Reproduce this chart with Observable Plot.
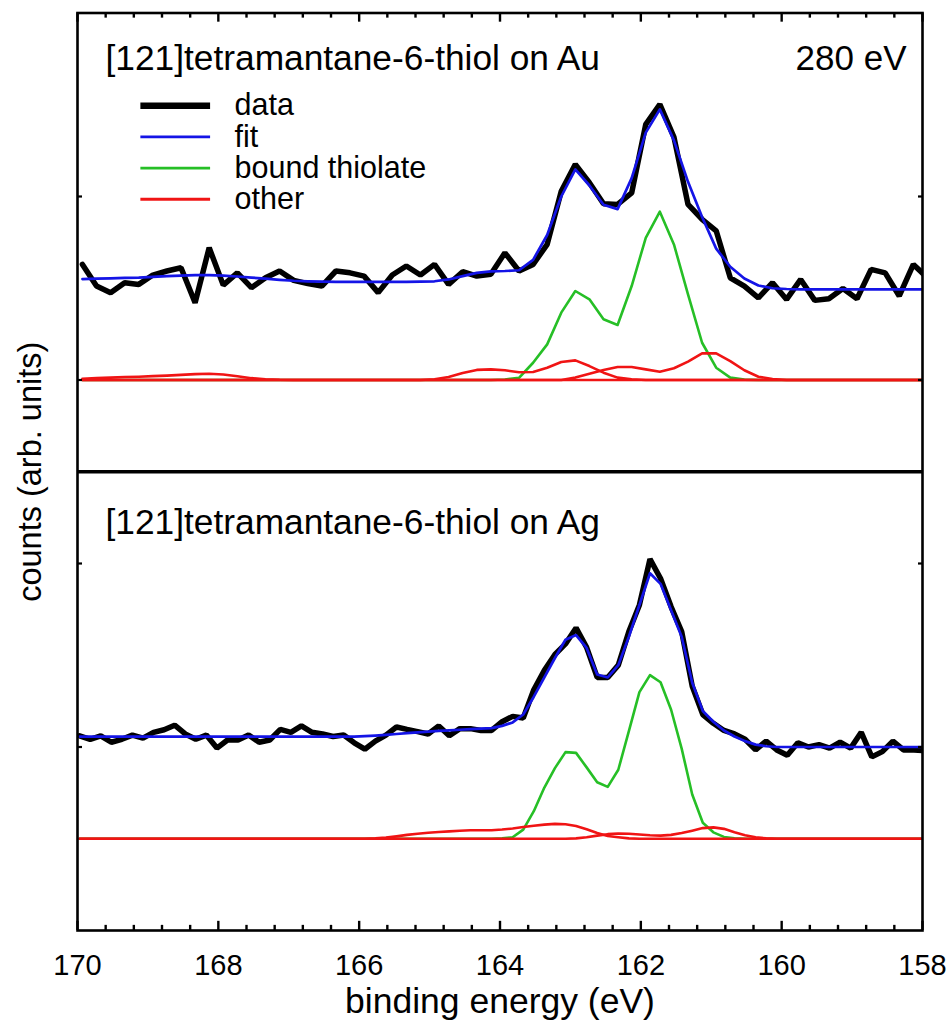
<!DOCTYPE html>
<html>
<head>
<meta charset="utf-8">
<script src="https://cdn.jsdelivr.net/npm/d3@7"></script>
<script src="https://cdn.jsdelivr.net/npm/@observablehq/plot@0.6"></script>
<style>
  body { margin: 0; background: #fff; }
</style>
</head>
<body>
<div id="chart"></div>
<script>
// ---------- x grids (binding energy, eV) ----------
const topEnergy = [
  169.93, 169.73, 169.53, 169.33, 169.13, 168.93, 168.73, 168.53, 168.33, 168.13,
  167.93, 167.73, 167.53, 167.33, 167.13, 166.93, 166.73, 166.53, 166.33, 166.13,
  165.93, 165.73, 165.53, 165.33, 165.13, 164.93, 164.73, 164.53, 164.33, 164.13,
  163.93, 163.73, 163.53, 163.33, 163.13, 162.93, 162.73, 162.53, 162.33, 162.13,
  161.93, 161.73, 161.53, 161.33, 161.13, 160.93, 160.73, 160.53, 160.33, 160.13,
  159.93, 159.73, 159.53, 159.33, 159.13, 158.93, 158.73, 158.53, 158.33, 158.13,
  157.93
];
const bottomEnergy = [
  169.97, 169.82, 169.67, 169.52, 169.37, 169.22, 169.07, 168.92, 168.77, 168.62,
  168.47, 168.32, 168.17, 168.02, 167.87, 167.72, 167.57, 167.42, 167.27, 167.12,
  166.97, 166.82, 166.67, 166.52, 166.37, 166.22, 166.07, 165.92, 165.77, 165.62,
  165.47, 165.32, 165.17, 165.02, 164.87, 164.72, 164.57, 164.42, 164.27, 164.12,
  163.97, 163.82, 163.67, 163.52, 163.37, 163.22, 163.07, 162.92, 162.77, 162.62,
  162.47, 162.32, 162.17, 162.02, 161.87, 161.72, 161.57, 161.42, 161.27, 161.12,
  160.97, 160.82, 160.67, 160.52, 160.37, 160.22, 160.07, 159.92, 159.77, 159.62,
  159.47, 159.32, 159.17, 159.02, 158.87, 158.72, 158.57, 158.42, 158.27, 158.12,
  157.97
];

// ---------- top panel: Au ----------
const topData = [
  0.630, 0.512, 0.476, 0.530, 0.521, 0.572, 0.594, 0.612, 0.421, 0.721,
  0.517, 0.584, 0.503, 0.557, 0.594, 0.543, 0.525, 0.512, 0.594, 0.584,
  0.566, 0.476, 0.572, 0.621, 0.572, 0.630, 0.521, 0.590, 0.566, 0.576,
  0.693, 0.594, 0.630, 0.739, 1.029, 1.175, 1.075, 0.960, 0.957, 1.020,
  1.393, 1.502, 1.324, 0.957, 0.876, 0.813, 0.557, 0.512, 0.448, 0.530,
  0.439, 0.548, 0.434, 0.443, 0.499, 0.443, 0.603, 0.584, 0.458, 0.630,
  0.557
];
const topFit = [
  0.550, 0.552, 0.554, 0.556, 0.558, 0.562, 0.566, 0.569, 0.571, 0.571,
  0.569, 0.564, 0.558, 0.552, 0.546, 0.541, 0.538, 0.536, 0.535, 0.535,
  0.535, 0.535, 0.535, 0.535, 0.536, 0.538, 0.548, 0.566, 0.584, 0.592,
  0.594, 0.598, 0.655, 0.790, 1.000, 1.148, 1.060, 0.955, 0.931, 1.100,
  1.348, 1.475, 1.306, 1.080, 0.888, 0.716, 0.617, 0.553, 0.515, 0.500,
  0.496, 0.494, 0.494, 0.494, 0.494, 0.494, 0.494, 0.494, 0.494, 0.494,
  0.494
];
const topThiolate = [
  0, 0, 0, 0, 0, 0, 0, 0, 0, 0,
  0, 0, 0, 0, 0, 0, 0, 0, 0, 0,
  0, 0, 0, 0, 0, 0, 0, 0, 0, 0,
  0.003, 0.012, 0.094, 0.194, 0.367, 0.485, 0.440, 0.331, 0.300, 0.512,
  0.775, 0.917, 0.739, 0.467, 0.203, 0.067, 0.013, 0.002, 0, 0,
  0, 0, 0, 0, 0, 0, 0, 0, 0, 0,
  0
];
const topOtherA = [
  0.007, 0.010, 0.013, 0.016, 0.018, 0.021, 0.024, 0.028, 0.032, 0.034,
  0.030, 0.020, 0.010, 0.004, 0.001, 0, 0, 0, 0, 0,
  0, 0, 0, 0, 0, 0, 0, 0, 0, 0,
  0, 0, 0, 0, 0, 0, 0, 0, 0, 0,
  0, 0, 0, 0, 0, 0, 0, 0, 0, 0,
  0, 0, 0, 0, 0, 0, 0, 0, 0, 0,
  0
];
const topOtherB = [
  0, 0, 0, 0, 0, 0, 0, 0, 0, 0,
  0, 0, 0, 0, 0, 0, 0, 0, 0, 0,
  0, 0, 0, 0, 0, 0.004, 0.016, 0.038, 0.055, 0.058,
  0.053, 0.042, 0.044, 0.067, 0.098, 0.107, 0.076, 0.040, 0.013, 0.004,
  0, 0, 0, 0, 0, 0, 0, 0, 0, 0,
  0, 0, 0, 0, 0, 0, 0, 0, 0, 0,
  0
];
const topOtherC = [
  0, 0, 0, 0, 0, 0, 0, 0, 0, 0,
  0, 0, 0, 0, 0, 0, 0, 0, 0, 0,
  0, 0, 0, 0, 0, 0, 0, 0, 0, 0,
  0, 0, 0, 0, 0, 0.013, 0.034, 0.054, 0.071, 0.071,
  0.058, 0.045, 0.064, 0.100, 0.145, 0.145, 0.103, 0.053, 0.018, 0.005,
  0, 0, 0, 0, 0, 0, 0, 0, 0, 0,
  0
];

// ---------- bottom panel: Ag ----------
const bottomData = [
  0.561, 0.542, 0.561, 0.526, 0.542, 0.565, 0.548, 0.580, 0.594, 0.619,
  0.571, 0.542, 0.565, 0.494, 0.538, 0.538, 0.565, 0.526, 0.538, 0.596,
  0.580, 0.615, 0.580, 0.571, 0.557, 0.565, 0.523, 0.488, 0.532, 0.565,
  0.609, 0.596, 0.584, 0.571, 0.615, 0.561, 0.600, 0.600, 0.590, 0.590,
  0.638, 0.667, 0.658, 0.812, 0.918, 1.004, 1.062, 1.149, 1.043, 0.879,
  0.879, 0.946, 1.129, 1.274, 1.524, 1.418, 1.264, 1.129, 0.831, 0.677,
  0.629, 0.590, 0.571, 0.542, 0.484, 0.532, 0.484, 0.455, 0.523, 0.500,
  0.513, 0.494, 0.526, 0.494, 0.580, 0.446, 0.475, 0.532, 0.484, 0.484,
  0.480
];
const bottomFit = [
  0.557, 0.557, 0.557, 0.557, 0.557, 0.557, 0.557, 0.557, 0.557, 0.557,
  0.557, 0.557, 0.557, 0.557, 0.557, 0.557, 0.557, 0.557, 0.557, 0.557,
  0.557, 0.557, 0.557, 0.557, 0.557, 0.557, 0.557, 0.559, 0.562, 0.566,
  0.571, 0.576, 0.580, 0.584, 0.588, 0.591, 0.594, 0.597, 0.600, 0.603,
  0.615, 0.634, 0.677, 0.774, 0.879, 0.985, 1.085, 1.110, 1.040, 0.895,
  0.879, 0.946, 1.101, 1.274, 1.447, 1.389, 1.245, 1.101, 0.850, 0.696,
  0.638, 0.590, 0.557, 0.532, 0.513, 0.504, 0.500, 0.500, 0.500, 0.500,
  0.500, 0.500, 0.500, 0.500, 0.500, 0.500, 0.500, 0.500, 0.500, 0.500,
  0.500
];
const bottomThiolate = [
  0, 0, 0, 0, 0, 0, 0, 0, 0, 0,
  0, 0, 0, 0, 0, 0, 0, 0, 0, 0,
  0, 0, 0, 0, 0, 0, 0, 0, 0, 0,
  0, 0, 0, 0, 0, 0, 0, 0, 0, 0,
  0.002, 0.008, 0.050, 0.150, 0.279, 0.385, 0.472, 0.468, 0.389, 0.308,
  0.283, 0.376, 0.587, 0.799, 0.892, 0.853, 0.703, 0.491, 0.241, 0.087,
  0.035, 0.010, 0.002, 0, 0, 0, 0, 0, 0, 0,
  0, 0, 0, 0, 0, 0, 0, 0, 0, 0,
  0
];
const bottomOtherB = [
  0, 0, 0, 0, 0, 0, 0, 0, 0, 0,
  0, 0, 0, 0, 0, 0, 0, 0, 0, 0,
  0, 0, 0, 0, 0, 0, 0, 0, 0.002, 0.006,
  0.013, 0.021, 0.027, 0.033, 0.037, 0.040, 0.044, 0.046, 0.046, 0.046,
  0.050, 0.056, 0.064, 0.071, 0.077, 0.081, 0.079, 0.069, 0.052, 0.031,
  0.015, 0.008, 0.002, 0, 0, 0, 0, 0, 0, 0,
  0, 0, 0, 0, 0, 0, 0, 0, 0, 0,
  0, 0, 0, 0, 0, 0, 0, 0, 0, 0,
  0
];
const bottomOtherC = [
  0, 0, 0, 0, 0, 0, 0, 0, 0, 0,
  0, 0, 0, 0, 0, 0, 0, 0, 0, 0,
  0, 0, 0, 0, 0, 0, 0, 0, 0, 0,
  0, 0, 0, 0, 0, 0, 0, 0, 0, 0,
  0, 0, 0, 0, 0, 0, 0, 0.002, 0.008, 0.017,
  0.025, 0.029, 0.027, 0.023, 0.019, 0.017, 0.021, 0.031, 0.044, 0.058,
  0.062, 0.054, 0.035, 0.019, 0.008, 0.002, 0, 0, 0, 0,
  0, 0, 0, 0, 0, 0, 0, 0, 0, 0,
  0
];

// ---------- ticks & labels ----------
const majorTicks = [170, 168, 166, 164, 162, 160, 158];
const minorTicks = [169.6, 169.2, 168.8, 168.4, 167.6, 167.2, 166.8, 166.4,
  165.6, 165.2, 164.8, 164.4, 163.6, 163.2, 162.8, 162.4,
  161.6, 161.2, 160.8, 160.4, 159.6, 159.2, 158.8, 158.4];
const yTicks = [-2, -1, 0, 1];
const topTitle = "[121]tetramantane-6-thiol on Au";
const bottomTitle = "[121]tetramantane-6-thiol on Ag";
const photonEnergy = "280 eV";
const xLabel = "binding energy (eV)";
const yLabel = "counts (arb. units)";
const legendLabels = ["data", "fit", "bound thiolate", "other"];

// ---------- styling / layout ----------
const colors = {data: "#000000", fit: "#1414e6", thiolate: "#26bf26", other: "#f01414"};
const widths = {data: 5.5, fit: 2.7, thiolate: 2.6, other: 2.6};
const topOffset = 0, bottomOffset = -2.5;   // vertical stacking of panels
const divider = -0.5;
const yMin = -3, yMax = 2;
const majorLen = 0.05, minorLen = 0.028;    // inward tick lengths (y units)

function series(energy, values, offset) {
  return energy.map((e, i) => ({e, v: values[i] + offset}));
}
function lineOf(energy, values, offset, kind) {
  return Plot.line(series(energy, values, offset), {
    x: "e", y: "v", stroke: colors[kind], strokeWidth: widths[kind],
    strokeLinejoin: kind === "data" ? "miter" : "round", clip: true
  });
}

// legend (annotation inside top panel)
const legendKinds = ["data", "fit", "thiolate", "other"];
const legendX1 = 169.1, legendX2 = 168.11, legendTextX = 167.77;
const legendY0 = 1.495, legendStep = 0.17;
const legendRows = legendKinds.map((k, i) => ({kind: k, label: legendLabels[i], y: legendY0 - i * legendStep}));

const font = "'Liberation Sans', Arial, Helvetica, sans-serif";

const chart = Plot.plot({
  width: 952,
  height: 1024,
  marginLeft: 77,
  marginRight: 30,
  marginTop: 12.5,
  marginBottom: 94,
  style: {fontFamily: font, fontSize: "30px", color: "black", background: "white"},
  x: {domain: [170, 158]},
  y: {domain: [yMin, yMax]},
  marks: [
    // curves: top panel
    lineOf(topEnergy, topData, topOffset, "data"),
    lineOf(topEnergy, topFit, topOffset, "fit"),
    lineOf(topEnergy, topThiolate, topOffset, "thiolate"),
    lineOf(topEnergy, topOtherA, topOffset, "other"),
    lineOf(topEnergy, topOtherB, topOffset, "other"),
    lineOf(topEnergy, topOtherC, topOffset, "other"),
    // curves: bottom panel
    lineOf(bottomEnergy, bottomData, bottomOffset, "data"),
    lineOf(bottomEnergy, bottomFit, bottomOffset, "fit"),
    lineOf(bottomEnergy, bottomThiolate, bottomOffset, "thiolate"),
    lineOf(bottomEnergy, bottomOtherB, bottomOffset, "other"),
    lineOf(bottomEnergy, bottomOtherC, bottomOffset, "other"),

    // frame and panel divider
    Plot.frame({stroke: "black", strokeWidth: 2.6}),
    Plot.ruleY([divider], {stroke: "black", strokeWidth: 3.6}),

    // inward x ticks, bottom and top
    Plot.ruleX(majorTicks, {x: d => d, y1: yMin, y2: yMin + majorLen, stroke: "black", strokeWidth: 2.4}),
    Plot.ruleX(minorTicks, {x: d => d, y1: yMin, y2: yMin + minorLen, stroke: "black", strokeWidth: 2.4}),
    Plot.ruleX(majorTicks, {x: d => d, y1: yMax - majorLen, y2: yMax, stroke: "black", strokeWidth: 2.4}),
    Plot.ruleX(minorTicks, {x: d => d, y1: yMax - minorLen, y2: yMax, stroke: "black", strokeWidth: 2.4}),
    // x tick labels
    Plot.axisX({anchor: "bottom", ticks: majorTicks, tickSize: 0, tickPadding: 24, fontSize: 29, tickFormat: d => String(d), label: null}),
    // y ticks (no labels), left & right, inward
    Plot.axisY({anchor: "left", ticks: yTicks, tickSize: 5, dx: 5, strokeWidth: 2.2, fill: "none", label: null}),
    Plot.axisY({anchor: "right", ticks: yTicks, tickSize: 5, dx: -5, strokeWidth: 2.2, fill: "none", label: null}),

    // axis titles
    Plot.text([xLabel], {text: d => d, frameAnchor: "bottom", dy: 82, lineAnchor: "bottom", textAnchor: "middle", fontSize: 35.5}),
    Plot.text([yLabel], {text: d => d, frameAnchor: "left", dx: -47, rotate: -90, textAnchor: "middle", lineAnchor: "middle", fontSize: 32.5}),

    // panel titles
    Plot.text([topTitle], {text: d => d, frameAnchor: "top-left", dx: 28, dy: 56.5, lineAnchor: "bottom", textAnchor: "start", fontSize: 35.3}),
    Plot.text([photonEnergy], {text: d => d, frameAnchor: "top-right", dx: -16, dy: 56.5, lineAnchor: "bottom", textAnchor: "end", fontSize: 35}),
    Plot.text([bottomTitle], {text: d => d, frameAnchor: "left", dx: 28, dy: 62, lineAnchor: "bottom", textAnchor: "start", fontSize: 35.3}),

    // legend
    ...legendRows.map(r => Plot.ruleY([r], {
      y: "y", x1: legendX1, x2: legendX2, stroke: colors[r.kind],
      strokeWidth: r.kind === "data" ? 6.5 : 2.8
    })),
    Plot.text(legendRows, {x: legendTextX, y: "y", text: "label", textAnchor: "start", fontSize: 30.5})
  ]
});

document.getElementById("chart").append(chart);
</script>
</body>
</html>
